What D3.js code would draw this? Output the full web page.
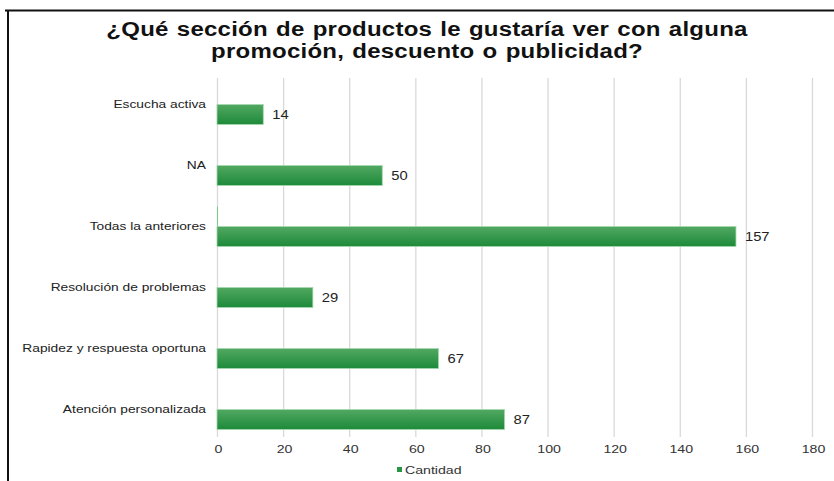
<!DOCTYPE html>
<html><head><meta charset="utf-8">
<script src="https://cdn.jsdelivr.net/npm/d3@7"></script>
<style>
html,body{margin:0;padding:0;background:#fff;}
svg{display:block;font-family:"Liberation Sans",Arial,sans-serif;}
</style></head>
<body>
<svg id="c" width="834" height="481"></svg>
<script>
const categories = ["Escucha activa","NA","Todas la anteriores","Resolución de problemas","Rapidez y respuesta oportuna","Atención personalizada"];
const cantidad = [14, 50, 157, 29, 67, 87];
const otherSeries = [0, 0, 0.3, 0, 0, 0];
const xTicks = [0,20,40,60,80,100,120,140,160,180];
const titleLines = ["¿Qué sección de productos le gustaría ver con alguna","promoción, descuento o publicidad?"];
const legendLabel = "Cantidad";

const SX = 1.23; // horizontal stretch of the reference text

const svg = d3.select("#c");
const defs = svg.append("defs");
const grad = defs.append("linearGradient").attr("id","g").attr("x1",0).attr("y1",0).attr("x2",0).attr("y2",1);
grad.append("stop").attr("offset","0%").attr("stop-color","#52a862");
grad.append("stop").attr("offset","100%").attr("stop-color","#1d8a3a");

// frame
svg.append("line").attr("x1",5).attr("x2",834).attr("y1",10.5).attr("y2",10.5).attr("stroke","#111").attr("stroke-width",2);
svg.append("line").attr("x1",8).attr("x2",8).attr("y1",10).attr("y2",481).attr("stroke","#111").attr("stroke-width",2);

// title
svg.append("g").selectAll("text").data(titleLines).join("text")
  .attr("transform",(d,i)=>`translate(427,${36+i*22}) scale(1.225,1)`)
  .attr("text-anchor","middle").attr("font-weight","bold").attr("font-size",19.6).attr("fill","#111")
  .attr("word-spacing",1).attr("letter-spacing",0.2)
  .text(d=>d);

const x = d3.scaleLinear().domain([0,180]).range([217,812]);
const y = d3.scaleBand().domain(categories).range([74,440]);

// grid
svg.append("g").selectAll("line").data(xTicks).join("line")
  .attr("x1",d=>x(d)+0.5).attr("x2",d=>x(d)+0.5).attr("y1",78).attr("y2",437)
  .attr("stroke","#d9d9d9").attr("stroke-width",1.3);

// axis labels
const xAxis = d3.axisBottom(x).tickValues(xTicks).tickSize(0).tickPadding(0);
const ax = svg.append("g").attr("transform","translate(1,445)").call(xAxis);
ax.select(".domain").remove();
ax.selectAll("text").attr("font-size",11.5).attr("fill","#333").attr("font-family","Liberation Sans, Arial, sans-serif")
  .attr("dy","0.71em").attr("transform",`scale(${SX},1)`);

// category labels
const yAxis = d3.axisLeft(y).tickSize(0).tickPadding(0);
const ay = svg.append("g").attr("transform","translate(206,0)").call(yAxis);
ay.select(".domain").remove();
ay.selectAll("text").attr("font-size",11.2).attr("fill","#222").attr("font-family","Liberation Sans, Arial, sans-serif")
  .attr("transform",`scale(${SX},1)`);

const bh = 20;
const mid = d => y(d) + y.bandwidth()/2;

// other tiny series (above)
svg.append("g").selectAll("rect").data(categories).join("rect")
  .attr("x",x(0)).attr("y",d=>mid(d)-bh).attr("height",bh)
  .attr("width",(d,i)=>x(otherSeries[i])-x(0))
  .attr("fill","#7cc98a");

// bars
svg.append("g").selectAll("rect").data(categories).join("rect")
  .attr("x",x(0)).attr("y",d=>mid(d)).attr("height",bh)
  .attr("width",(d,i)=>x(cantidad[i])-x(0))
  .attr("fill","url(#g)").attr("stroke","#a6d8ae").attr("stroke-width",0.8);

// value labels
svg.append("g").selectAll("text").data(categories).join("text")
  .attr("transform",(d,i)=>`translate(${x(cantidad[i])+9},${mid(d)+bh/2+4}) scale(${SX},1)`)
  .attr("font-size",12).attr("fill","#222").text((d,i)=>cantidad[i]);

// legend
svg.append("rect").attr("x",397).attr("y",467).attr("width",5).attr("height",5).attr("fill","#259645");
svg.append("text").attr("transform",`translate(405,474) scale(${SX},1)`).attr("font-size",11.5).attr("fill","#333").text(legendLabel);
</script>
</body></html>
